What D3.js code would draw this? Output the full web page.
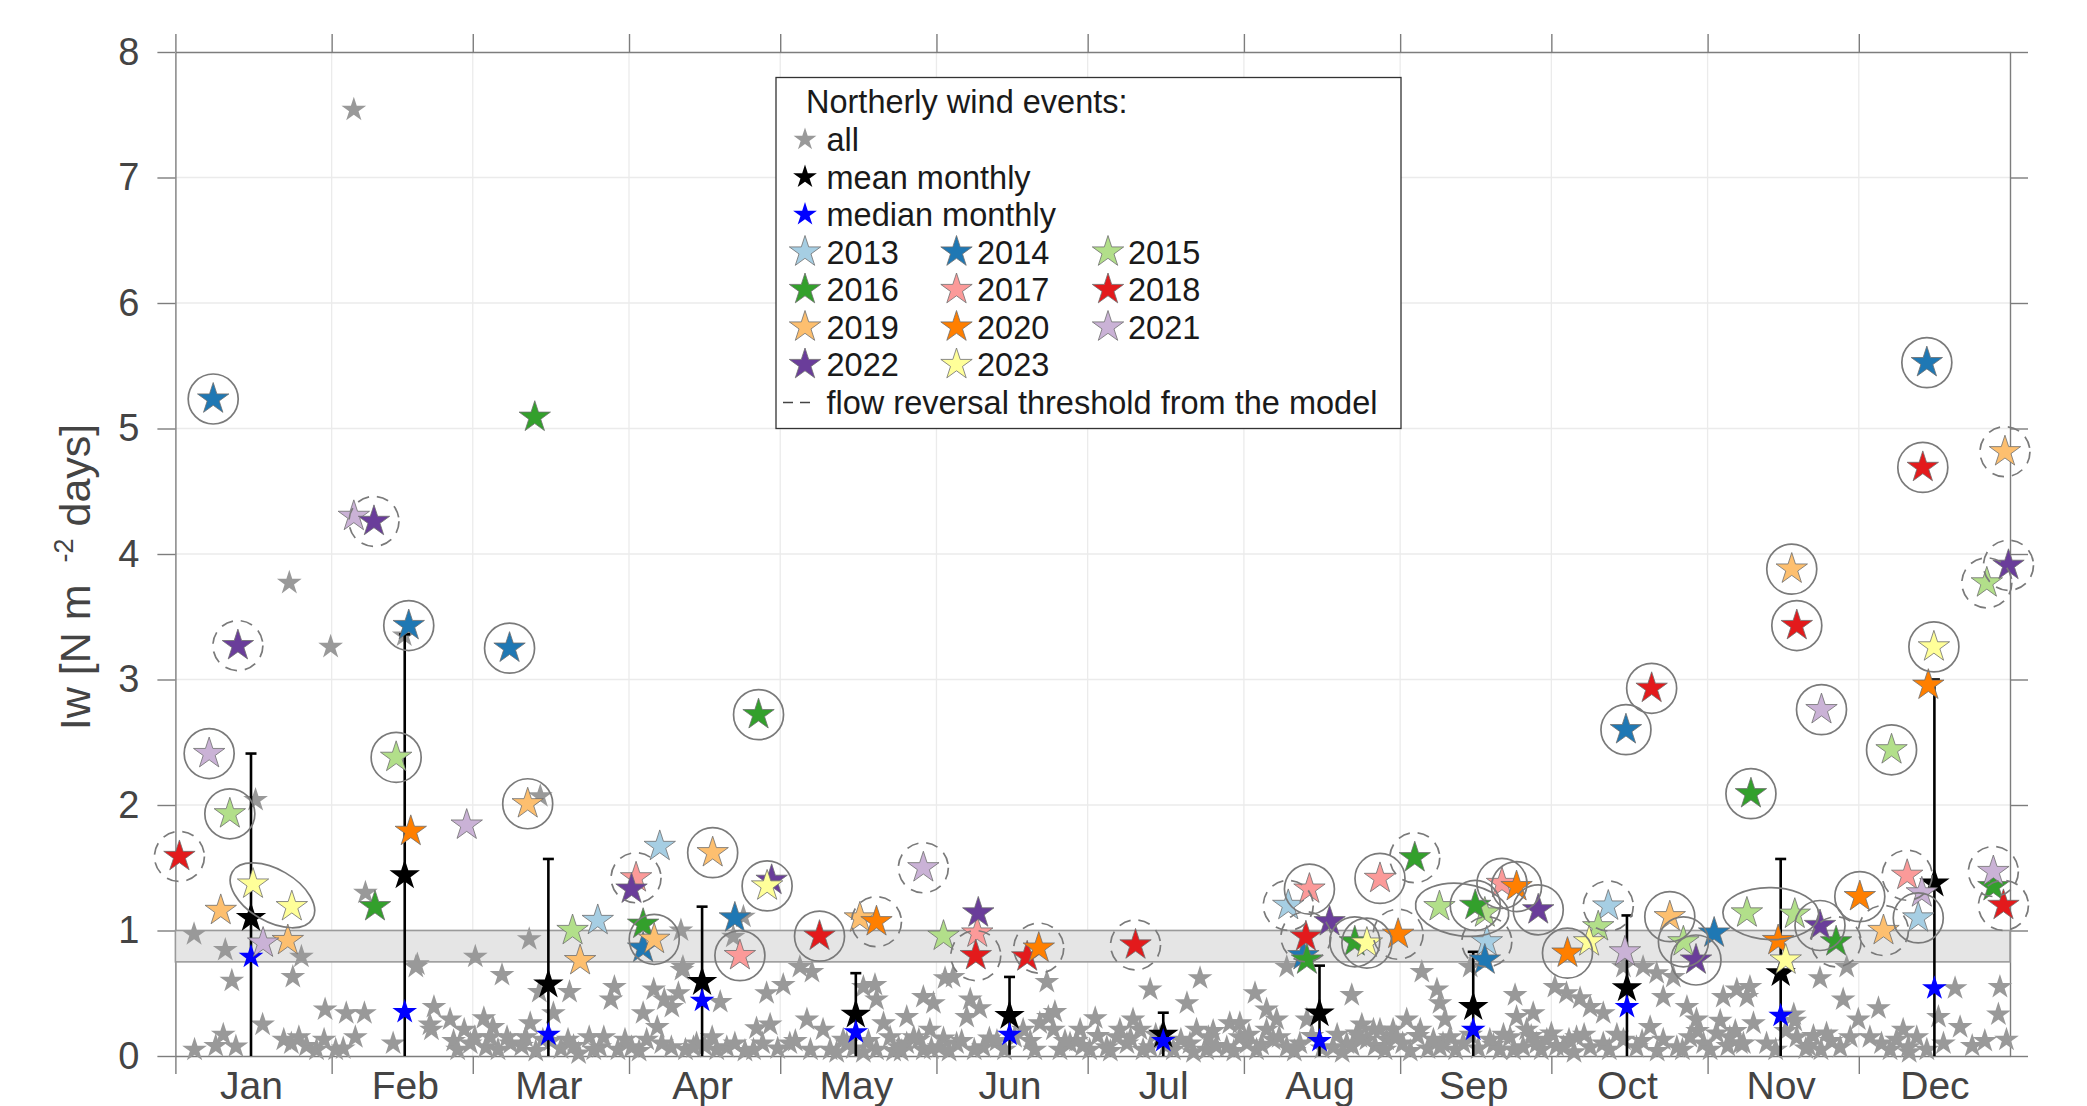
<!DOCTYPE html>
<html>
<head>
<meta charset="utf-8">
<script src="https://cdn.jsdelivr.net/npm/d3@7"></script>
<style>
  body { margin: 0; background: #fff; }
  svg { display: block; }
  text { font-family: "Liberation Sans", Arial, Helvetica, sans-serif; }
</style>
</head>
<body>
<svg id="chart"></svg>
<script>
// ---- data ----
const monthNames = ["Jan", "Feb", "Mar", "Apr", "May", "Jun", "Jul", "Aug", "Sep", "Oct", "Nov", "Dec"];
const monthStarts = [1, 32, 60, 91, 121, 152, 182, 213, 244, 274, 305, 335];
const monthMids = [16, 46.5, 75, 105.5, 136, 166.5, 197, 228, 258.5, 289, 319.5, 350];
const meanMonthly = [1.10, 1.44, 0.57, 0.59, 0.33, 0.32, 0.17, 0.34, 0.39, 0.54, 0.66, 1.375];
const stdMonthly = [1.31, 1.92, 1.00, 0.60, 0.33, 0.31, 0.175, 0.38, 0.44, 0.58, 0.91, 1.625];
const medianMonthly = [0.79, 0.35, 0.17, 0.44, 0.19, 0.17, 0.12, 0.12, 0.21, 0.39, 0.32, 0.54];
const yTicks = [0, 1, 2, 3, 4, 5, 6, 7, 8];
const thresholdBand = [0.75, 1.0];

const years = [2013, 2014, 2015, 2016, 2017, 2018, 2019, 2020, 2021, 2022, 2023];
const yearColors = ["#a6cee3", "#1f78b4", "#b2df8a", "#33a02c", "#fb9a99", "#e31a1c",
                    "#fdbf6f", "#ff7f00", "#cab2d6", "#6a3d9a", "#ffff99"];

// [day of year, Iw, year, ring: 0 none, 1 solid circle, 2 dashed circle]
const yearEvents = [
  [8.5, 5.235, 2014, 1], [36.4, 4.30, 2021, 0], [40.4, 4.26, 2022, 2], [72.3, 5.09, 2016, 0],
  [13.4, 3.27, 2022, 2], [47.3, 3.43, 2014, 1], [67.3, 3.25, 2014, 1], [7.7, 2.41, 2021, 1],
  [11.8, 1.93, 2015, 1], [44.8, 2.38, 2015, 1], [47.7, 1.79, 2020, 0], [58.8, 1.84, 2021, 0],
  [70.9, 2.01, 2019, 1], [1.8, 1.59, 2018, 2], [10.0, 1.16, 2019, 0], [16.4, 1.37, 2023, 0],
  [24.1, 1.19, 2023, 0], [18.4, 0.90, 2021, 0], [23.3, 0.92, 2019, 0], [40.6, 1.19, 2016, 0],
  [84.8, 1.08, 2013, 0], [79.8, 1.00, 2015, 0], [81.3, 0.76, 2019, 0], [92.4, 1.42, 2017, 2],
  [91.5, 1.33, 2022, 0], [97.1, 1.67, 2013, 0], [93.8, 1.05, 2016, 0], [93.8, 0.86, 2014, 0],
  [96.0, 0.93, 2019, 1],
  [116.7, 2.72, 2016, 1], [107.6, 1.62, 2019, 1], [119.3, 1.40, 2022, 0], [118.4, 1.355, 2023, 1],
  [112.0, 1.10, 2014, 0], [113.0, 0.80, 2017, 1], [128.8, 0.955, 2018, 1], [136.8, 1.10, 2019, 0],
  [140.1, 1.07, 2020, 2], [149.4, 1.50, 2021, 2], [153.4, 0.955, 2015, 0], [160.3, 1.14, 2022, 0],
  [160.1, 0.98, 2017, 0], [159.8, 0.80, 2018, 2], [170.0, 0.79, 2018, 0], [172.3, 0.86, 2020, 2],
  [191.5, 0.885, 2018, 2], [221.8, 1.20, 2013, 2], [226.0, 1.33, 2017, 1], [230.0, 1.07, 2022, 0],
  [225.3, 0.95, 2018, 2], [224.8, 0.80, 2014, 0], [225.5, 0.765, 2016, 0], [235.0, 0.91, 2016, 1],
  [237.4, 0.90, 2023, 1], [240.0, 1.415, 2017, 1], [243.6, 0.97, 2020, 2],
  [246.9, 1.58, 2016, 2], [251.8, 1.19, 2015, 0], [258.9, 1.20, 2016, 1], [260.8, 1.14, 2015, 0],
  [264.2, 1.375, 2017, 1], [267.1, 1.35, 2020, 1], [271.4, 1.165, 2022, 1], [261.2, 0.91, 2013, 2],
  [260.8, 0.765, 2014, 0], [277.2, 0.82, 2020, 1], [281.5, 0.91, 2023, 0], [283.3, 1.03, 2015, 0],
  [285.3, 1.195, 2013, 2], [288.6, 0.83, 2021, 0], [297.5, 1.11, 2019, 1], [300.2, 0.91, 2015, 1],
  [302.7, 0.765, 2022, 1], [306.3, 0.98, 2014, 0], [293.9, 2.93, 2018, 1], [288.8, 2.60, 2014, 1],
  [313.6, 2.09, 2016, 1],
  [312.8, 1.14, 2015, 0], [322.3, 1.13, 2015, 0], [319.0, 0.92, 2020, 0], [320.5, 0.765, 2023, 0],
  [327.3, 1.04, 2022, 1], [330.5, 0.91, 2016, 2], [335.2, 1.27, 2020, 1], [339.9, 1.00, 2019, 2],
  [344.6, 1.44, 2017, 2], [347.5, 1.30, 2021, 0], [346.8, 1.10, 2013, 1], [361.7, 1.47, 2021, 2],
  [361.7, 1.35, 2016, 0], [363.7, 1.20, 2018, 2], [322.7, 3.43, 2018, 1], [349.9, 3.26, 2023, 1],
  [348.8, 2.955, 2020, 0], [327.6, 2.76, 2021, 1], [341.5, 2.44, 2015, 1], [348.5, 5.525, 2014, 1],
  [347.7, 4.69, 2018, 1], [364.0, 4.815, 2019, 2], [321.7, 3.88, 2019, 1], [364.7, 3.91, 2022, 2],
  [360.4, 3.77, 2015, 2]
];

// events of one year grouped by an ellipse: [day1, Iw1, day2, Iw2]
const eventPairs = [
  [16.4, 1.37, 24.1, 1.19],
  [251.8, 1.19, 260.8, 1.14],
  [312.8, 1.14, 322.3, 1.13]
];

// all northerly wind events [day of year, Iw]
const allEvents = [
  [36.4, 7.54], [23.6, 3.77], [31.8, 3.26], [46.4, 3.35], [16.9, 2.04], [73.4, 2.07], [38.7, 1.30],
  [4.7, 0.97], [10.9, 0.845], [12.2, 0.60], [26.0, 0.79], [24.3, 0.63], [60.5, 0.79], [49.0, 0.73],
  [65.8, 0.645], [71.2, 0.93], [101.3, 1.0], [101.7, 0.71],
  [4.8, 0.05], [10.5, 0.17], [13.0, 0.075], [9.0, 0.08], [18.3, 0.25], [22.5, 0.13], [25.5, 0.15],
  [27, 0.08], [24, 0.1], [29, 0.05], [30.7, 0.37], [30.5, 0.13], [32.8, 0.05], [34.9, 0.34],
  [38.5, 0.34], [36.7, 0.15], [34.3, 0.06], [44.2, 0.10],
  [48.7, 0.71], [52.3, 0.39], [51.8, 0.21], [51.5, 0.25], [55.5, 0.29], [56.2, 0.12], [58.3, 0.21],
  [60.4, 0.15], [62.2, 0.30], [64.0, 0.23], [62.6, 0.07], [66.8, 0.15], [69.7, 0.08], [71.4, 0.26],
  [73.2, 0.51], [76.0, 0.34], [73.9, 0.13], [77.5, 0.06], [79.2, 0.51], [78.9, 0.13], [81, 0.02],
  [83.1, 0.15], [85.2, 0.07], [88.1, 0.55], [87.4, 0.45], [88.8, 0.05], [90.2, 0.13], [94.5, 0.13],
  [93.8, 0.34], [95.9, 0.53], [98, 0.45], [96.6, 0.23], [100.8, 0.50], [101.5, 0.685], [99.5, 0.39],
  [99.4, 0.07], [102.2, 0.05], [104.4, 0.1],
  [57, 0.05], [59.5, 0.1], [63.5, 0.15], [65, 0.05], [67.5, 0.1], [70.5, 0.15], [72.5, 0.04],
  [75.5, 0.12], [80, 0.08], [84, 0.05], [86, 0.15], [91.5, 0.07], [93, 0.04], [97.5, 0.1],
  [113.7, 1.11], [111.7, 0.95], [109.1, 0.43], [118.3, 0.50], [121.6, 0.565], [124.9, 0.71],
  [127.3, 0.67], [119, 0.25], [116.3, 0.22], [126.3, 0.29], [122.9, 0.10], [115.7, 0.05],
  [110.4, 0.07], [108.4, 0.05], [103.8, 0.07], [129.5, 0.21], [130.9, 0.05], [137.5, 0.55],
  [139.8, 0.565], [140.1, 0.45], [141.5, 0.26], [142.8, 0.15], [146.1, 0.31], [149.4, 0.47],
  [151.4, 0.42], [153.7, 0.62], [155.3, 0.63], [158.7, 0.45], [160.6, 0.38], [158, 0.31],
  [150.7, 0.21], [153.4, 0.14], [156, 0.10], [146.1, 0.10], [149.4, 0.05], [140.1, 0.05],
  [134.2, 0.10], [137.5, 0.03], [132.2, 0.03], [173.9, 0.59], [172.5, 0.26], [170.6, 0.12],
  [169.2, 0.21], [174.2, 0.31], [164, 0.12], [161.3, 0.07], [144.5, 0.07], [148.5, 0.13],
  [152.5, 0.07], [143.5, 0.04],
  [106, 0.08], [107.5, 0.15], [112, 0.1], [114, 0.04], [117.5, 0.1], [120.5, 0.06], [124, 0.12],
  [127, 0.05], [133.5, 0.13], [135.5, 0.06], [138.5, 0.12], [145, 0.04], [147.5, 0.15], [151, 0.06],
  [154.5, 0.04], [157, 0.12], [159.5, 0.05], [162.5, 0.14], [165.5, 0.05], [167.5, 0.15], [171.5, 0.05],
  [175.5, 0.35], [175.2, 0.21], [178.5, 0.10], [179.8, 0.12], [183.5, 0.30], [188.4, 0.21],
  [191, 0.29], [192.4, 0.21], [194.4, 0.53], [201.7, 0.42], [204.3, 0.62], [206.9, 0.20],
  [210.2, 0.26], [212.2, 0.26], [215.2, 0.50], [217.5, 0.37], [219.5, 0.29], [221.5, 0.71],
  [234.4, 0.485], [236.4, 0.25], [240, 0.21], [242.6, 0.21], [225.5, 0.29],
  [182.4, 0.05], [185.8, 0.07], [189.8, 0.10], [194.4, 0.07], [199, 0.05], [202.3, 0.10],
  [205.6, 0.05], [209.6, 0.07], [213.6, 0.10], [215.5, 0.05], [218.8, 0.13], [221.5, 0.07],
  [224.1, 0.10], [230.7, 0.07], [233.4, 0.10], [237.4, 0.13], [241.3, 0.13], [243.3, 0.15],
  [180.5, 0.21], [176.5, 0.05], [187.8, 0.15], [196.4, 0.15], [203.6, 0.21], [212.2, 0.15],
  [217.5, 0.21], [235.4, 0.18], [238.7, 0.21],
  [177.5, 0.12], [181, 0.08], [184, 0.16], [186.5, 0.04], [190.5, 0.14], [193, 0.05], [195.5, 0.17],
  [197.5, 0.08], [200.5, 0.13], [203, 0.03], [206, 0.15], [207.5, 0.08], [211, 0.04], [214, 0.17],
  [216.5, 0.09], [220, 0.15], [223, 0.04], [226.5, 0.16], [228.5, 0.06], [231.5, 0.17], [232.5, 0.03],
  [234.5, 0.08], [236, 0.15], [239, 0.08], [241, 0.05], [244.5, 0.10], [246, 0.04], [247.5, 0.16],
  [249.5, 0.06], [252.5, 0.10], [255, 0.05], [258, 0.17], [259.5, 0.06], [262.5, 0.09], [264.5, 0.17],
  [266.5, 0.05], [270, 0.16], [272, 0.05], [274, 0.18], [275, 0.08], [277.5, 0.13], [278.5, 0.03],
  [280.5, 0.17],
  [248.3, 0.67], [251.3, 0.53], [251.9, 0.42], [252.9, 0.29], [257.9, 0.71], [266.8, 0.485],
  [267.1, 0.31], [269.1, 0.21], [270.4, 0.34], [274.7, 0.55], [277, 0.50], [279.7, 0.46],
  [281.7, 0.39], [284.3, 0.34], [292.2, 0.71], [294.9, 0.66], [296.2, 0.47], [298.2, 0.63],
  [300.9, 0.39], [302.8, 0.29], [308.1, 0.47], [310.8, 0.53], [312.8, 0.47], [288.3, 0.71],
  [245.3, 0.29], [248, 0.21], [250.6, 0.13], [253.9, 0.15], [256.5, 0.10], [261.8, 0.13],
  [263.8, 0.05], [265.8, 0.15], [271.1, 0.10], [273.1, 0.13], [276.4, 0.07], [279, 0.15],
  [281.7, 0.07], [284.3, 0.10], [288.3, 0.13], [290.9, 0.07], [293.6, 0.23], [296.2, 0.13],
  [298.9, 0.07], [301.5, 0.15], [304.2, 0.10], [306.8, 0.18], [309.4, 0.15], [312.1, 0.10],
  [251.9, 0.07], [268.4, 0.07],
  [285.5, 0.05], [287, 0.17], [292, 0.12], [295, 0.04], [300, 0.05], [303, 0.2], [305.5, 0.05],
  [307.5, 0.28], [309, 0.08], [310.5, 0.2], [322.1, 0.33], [325, 0.08], [327.5, 0.05], [329.5, 0.12],
  [342.5, 0.13], [345, 0.03],
  [332.6, 0.71], [327.3, 0.62], [331.9, 0.45], [338.9, 0.38], [334.9, 0.29], [354.1, 0.54],
  [363, 0.55], [362.7, 0.33], [364.3, 0.13], [355.1, 0.23], [350.8, 0.31], [343.8, 0.21],
  [346.5, 0.15], [351.8, 0.10], [313.4, 0.55], [314.1, 0.26], [311.5, 0.10], [316.7, 0.10],
  [322.7, 0.15], [326, 0.16], [328.6, 0.18], [331.3, 0.07], [333.3, 0.15], [337.2, 0.15],
  [341.2, 0.05], [322.3, 0.28], [318.5, 0.05], [320.5, 0.2], [324.5, 0.06], [339.5, 0.1],
  [344.8, 0.07], [348.5, 0.05], [357.5, 0.08], [360, 0.12]
];

// ---- layout ----
const width = 2087;
const height = 1106;
const plot = { left: 175.4, right: 2010, top: 52, bottom: 1056 };
const tickLen = 18;
const axisColor = "#7d7d7d";
const labelColor = "#444";
const ringColor = "#7a7a7a";

const svg = d3.select("#chart").attr("width", width).attr("height", height);

const x = d3.scaleLinear().domain([1, 365]).range([plot.left, plot.right]);
const y = d3.scaleLinear().domain([0, 8]).range([plot.bottom, plot.top]);
const color = d3.scaleOrdinal().domain(years).range(yearColors);

function starPath(r) {
  const pts = [];
  for (let i = 0; i < 10; i++) {
    const a = -Math.PI / 2 + i * Math.PI / 5;
    const rr = i % 2 ? r * 0.382 : r;
    pts.push([(rr * Math.cos(a)).toFixed(2), (rr * Math.sin(a)).toFixed(2)]);
  }
  return "M" + pts.map(p => p.join(",")).join("L") + "Z";
}

// grid
const grid = svg.append("g").attr("stroke", "#ebebeb").attr("stroke-width", 1.3);
grid.selectAll("line.gy")
  .data(yTicks.filter(d => d > 0 && d < 8))
  .join("line")
  .attr("x1", plot.left).attr("x2", plot.right)
  .attr("y1", d => y(d)).attr("y2", d => y(d));
grid.selectAll("line.gx")
  .data(monthStarts.slice(1))
  .join("line")
  .attr("x1", d => x(d)).attr("x2", d => x(d))
  .attr("y1", plot.top).attr("y2", plot.bottom);

// axes (box with outward ticks)
function styleAxis(g) {
  g.select(".domain").attr("stroke", axisColor).attr("stroke-width", 1.4);
  g.selectAll(".tick line").attr("stroke", axisColor).attr("stroke-width", 1.4);
  g.selectAll("text").attr("fill", labelColor).attr("font-family", "Liberation Sans, Arial, sans-serif");
}

svg.append("g")
  .attr("transform", `translate(${plot.left},0)`)
  .call(d3.axisLeft(y).tickValues(yTicks).tickSize(tickLen).tickSizeOuter(0).tickPadding(18))
  .call(styleAxis)
  .call(g => g.selectAll("text").attr("font-size", 38));

svg.append("g")
  .attr("transform", `translate(${plot.right},0)`)
  .call(d3.axisRight(y).tickValues(yTicks).tickSize(tickLen).tickSizeOuter(0).tickFormat(""))
  .call(styleAxis);

svg.append("g")
  .attr("transform", `translate(0,${plot.bottom})`)
  .call(d3.axisBottom(x).tickValues(monthStarts).tickSize(tickLen).tickSizeOuter(0).tickFormat(""))
  .call(styleAxis);

svg.append("g")
  .attr("transform", `translate(0,${plot.top})`)
  .call(d3.axisTop(x).tickValues(monthStarts).tickSize(tickLen).tickSizeOuter(0).tickFormat(""))
  .call(styleAxis);

// month labels at mid-month
svg.append("g")
  .attr("transform", `translate(0,${plot.bottom})`)
  .call(d3.axisBottom(x).tickValues(monthMids).tickSize(0).tickPadding(15)
    .tickFormat((d, i) => monthNames[i]))
  .call(g => g.select(".domain").remove())
  .call(styleAxis)
  .call(g => g.selectAll("text").attr("font-size", 39));

// y label
const ylab = svg.append("text")
  .attr("transform", "translate(90,577) rotate(-90)")
  .attr("text-anchor", "middle")
  .attr("fill", labelColor)
  .attr("font-size", 43);
ylab.append("tspan").text("Iw [N m");
ylab.append("tspan").attr("dx", 22).attr("dy", -17).attr("font-size", 27).text("-2");
ylab.append("tspan").attr("dx", 12).attr("dy", 17).text("days]");

// threshold band
svg.append("rect")
  .attr("x", x(1)).attr("width", x(365) - x(1))
  .attr("y", y(thresholdBand[1])).attr("height", y(thresholdBand[0]) - y(thresholdBand[1]))
  .attr("fill", "#e5e5e5").attr("stroke", "#9a9a9a").attr("stroke-width", 1.6);

// all events
svg.append("g")
  .selectAll("path")
  .data(allEvents)
  .join("path")
  .attr("d", starPath(13))
  .attr("transform", d => `translate(${x(d[0])},${y(d[1])})`)
  .attr("fill", "#999");

// mean +/- std error bars
const monthly = monthMids.map((m, i) => ({
  m, mean: meanMonthly[i], median: medianMonthly[i],
  lo: meanMonthly[i] - stdMonthly[i], hi: meanMonthly[i] + stdMonthly[i]
}));
const eb = svg.append("g").attr("stroke", "#000").attr("stroke-width", 2.6);
eb.selectAll("line.bar")
  .data(monthly)
  .join("line")
  .attr("x1", d => x(d.m)).attr("x2", d => x(d.m))
  .attr("y1", d => y(Math.max(0, d.lo))).attr("y2", d => y(Math.min(8, d.hi)));
eb.selectAll("line.cap")
  .data(monthly.filter(d => d.hi < 8))
  .join("line")
  .attr("x1", d => x(d.m) - 5.5).attr("x2", d => x(d.m) + 5.5)
  .attr("y1", d => y(d.hi)).attr("y2", d => y(d.hi));

svg.append("g")
  .selectAll("path")
  .data(monthly)
  .join("path")
  .attr("d", starPath(16))
  .attr("transform", d => `translate(${x(d.m)},${y(d.mean)})`)
  .attr("fill", "#000");

svg.append("g")
  .selectAll("path")
  .data(monthly)
  .join("path")
  .attr("d", starPath(13))
  .attr("transform", d => `translate(${x(d.m)},${y(d.median)})`)
  .attr("fill", "#0000ff");

// yearly events
const sortedEvents = yearEvents.slice().sort((a, b) => a[2] - b[2]);
svg.append("g")
  .selectAll("path")
  .data(sortedEvents)
  .join("path")
  .attr("d", starPath(16.5))
  .attr("transform", d => `translate(${x(d[0])},${y(d[1])})`)
  .attr("fill", d => color(d[2]))
  .attr("stroke", "#6f6f6f")
  .attr("stroke-width", 0.8);

// rings
svg.append("g")
  .selectAll("circle")
  .data(yearEvents.filter(d => d[3] > 0))
  .join("circle")
  .attr("cx", d => x(d[0])).attr("cy", d => y(d[1]))
  .attr("r", 25)
  .attr("fill", "none")
  .attr("stroke", ringColor)
  .attr("stroke-width", 1.7)
  .attr("stroke-dasharray", d => d[3] === 2 ? "12,8" : null);

svg.append("g")
  .selectAll("ellipse")
  .data(eventPairs)
  .join("ellipse")
  .each(function(d) {
    const x1 = x(d[0]), y1 = y(d[1]), x2 = x(d[2]), y2 = y(d[3]);
    const len = Math.hypot(x2 - x1, y2 - y1);
    const ang = Math.atan2(y2 - y1, x2 - x1) * 180 / Math.PI;
    d3.select(this)
      .attr("transform", `translate(${(x1 + x2) / 2},${(y1 + y2) / 2}) rotate(${ang})`)
      .attr("rx", len / 2 + 24)
      .attr("ry", 26);
  })
  .attr("fill", "none")
  .attr("stroke", ringColor)
  .attr("stroke-width", 1.7);

// legend
const lg = svg.append("g").attr("font-size", 32.5).attr("fill", "#1a1a1a");
lg.append("rect")
  .attr("x", 776).attr("y", 77.5).attr("width", 625).attr("height", 351)
  .attr("fill", "#fff").attr("stroke", "#333").attr("stroke-width", 1.3);
lg.append("text").attr("x", 806).attr("y", 113).text("Northerly wind events:");

const rowY = [151, 188.5, 226, 263.5, 301, 338.5, 376, 413.5];
const basic = [
  { label: "all", fill: "#999", r: 12 },
  { label: "mean monthly", fill: "#000", r: 12.5 },
  { label: "median monthly", fill: "#0000ff", r: 12.5 }
];
basic.forEach((b, i) => {
  lg.append("path").attr("d", starPath(b.r))
    .attr("transform", `translate(805,${rowY[i] - 11.5})`).attr("fill", b.fill);
  lg.append("text").attr("x", 826.5).attr("y", rowY[i]).text(b.label);
});
const colStar = [805, 956.5, 1108];
const colText = [826.5, 977, 1128];
years.forEach((yr, i) => {
  const r = Math.floor(i / 3), c = i % 3;
  lg.append("path").attr("d", starPath(16.5))
    .attr("transform", `translate(${colStar[c]},${rowY[3 + r] - 11.5})`)
    .attr("fill", color(yr)).attr("stroke", "#6f6f6f").attr("stroke-width", 0.8);
  lg.append("text").attr("x", colText[c]).attr("y", rowY[3 + r]).text(yr);
});
lg.append("line")
  .attr("x1", 783).attr("x2", 811).attr("y1", rowY[7] - 11).attr("y2", rowY[7] - 11)
  .attr("stroke", "#444").attr("stroke-width", 1.5).attr("stroke-dasharray", "10,7");
lg.append("text").attr("x", 826.5).attr("y", rowY[7]).text("flow reversal threshold from the model");
</script>
</body>
</html>
